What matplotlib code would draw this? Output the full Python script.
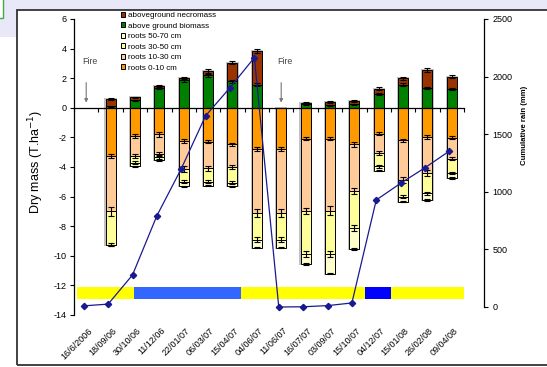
import numpy as np
import matplotlib
matplotlib.use("Agg")
import matplotlib.pyplot as plt
from matplotlib.patches import Rectangle

plt.rcParams['font.family'] = ['Liberation Sans', 'DejaVu Sans']
plt.rcParams['axes.unicode_minus'] = False

# ---------------- data ----------------
dates = ['16/6/2006', '18/09/06', '30/10/06', '11/12/06', '22/01/07', '06/03/07',
         '15/04/07', '04/06/07', '11/06/07', '16/07/07', '03/09/07', '15/10/07',
         '04/12/07', '15/01/08', '26/02/08', '09/04/08']

# aboveground compartments (T/ha, positive)
biomass   = [0, 0.10, 0.50, 1.35, 1.85, 2.20, 1.80, 1.55, 0, 0.25, 0.17, 0.25, 0.92, 1.57, 1.34, 1.25]
necromass = [0, 0.50, 0.20, 0.15, 0.15, 0.30, 1.25, 2.30, 0, 0.10, 0.23, 0.22, 0.38, 0.41, 1.20, 0.84]

# root compartments (T/ha, drawn downwards)
roots_0_10  = [0, 3.25, 1.90, 1.80, 2.25, 2.30, 2.45, 2.80, 2.80, 2.10, 2.10, 2.47, 1.75, 2.20, 1.98, 2.02]
roots_10_30 = [0, 3.75, 1.35, 1.30, 1.90, 1.80, 1.55, 4.30, 4.30, 4.90, 4.85, 3.18, 1.30, 2.67, 2.44, 1.42]
roots_30_50 = [0, 2.25, 0.45, 0.25, 0.85, 0.90, 1.05, 1.80, 1.80, 2.90, 2.95, 2.45, 0.90, 1.13, 1.36, 0.98]
roots_50_70 = [0, 0.05, 0.25, 0.20, 0.30, 0.25, 0.25, 0.55, 0.55, 0.65, 1.30, 1.45, 0.30, 0.34, 0.44, 0.31]

# standard errors
biomass_se   = [0, 0.04, 0.05, 0.06, 0.08, 0.10, 0.10, 0.10, 0, 0.03, 0.03, 0.03, 0.05, 0.08, 0.08, 0.08]
necromass_se = [0, 0.06, 0.05, 0.05, 0.10, 0.12, 0.10, 0.15, 0, 0.05, 0.05, 0.05, 0.08, 0.10, 0.12, 0.10]
roots_0_10_se  = [0, 0.15, 0.15, 0.15, 0.15, 0.10, 0.10, 0.12, 0.12, 0.10, 0.10, 0.15, 0.10, 0.12, 0.12, 0.10]
roots_10_30_se = [0, 0.30, 0.12, 0.10, 0.20, 0.15, 0.15, 0.25, 0.25, 0.20, 0.30, 0.20, 0.12, 0.20, 0.20, 0.10]
roots_30_50_se = [0, 0.10, 0.10, 0.08, 0.10, 0.10, 0.08, 0.15, 0.15, 0.20, 0.20, 0.20, 0.10, 0.12, 0.12, 0.08]
roots_50_70_se = [0, 0.05, 0.05, 0.05, 0.05, 0.05, 0.05, 0.05, 0.05, 0.05, 0.05, 0.05, 0.05, 0.05, 0.05, 0.05]

# cumulative rainfall since the last fire (mm)
rain = [10, 25, 278, 792, 1200, 1660, 1904, 2165, 0, 2, 12, 35, 929, 1074, 1209, 1354]

# dry / wet season strip along the bottom (category units)
season_edges = [-0.39, 1.95, 6.35, 11.45, 12.5, 15.5]
season_colors = ['#FFFF00', '#3366FF', '#FFFF00', '#0000FF', '#FFFF00']

fire_dates = [0, 8]

# ---------------- figure ----------------
W, H = 547, 367
fig = plt.figure(figsize=(W / 100, H / 100), dpi=100)
fig.patch.set_facecolor('white')


def fx(px):
    return px / W


def fy(py):
    return 1 - py / H


# surrounding window decoration
fig.add_artist(Rectangle((0, fy(10)), 1, 10 / H, transform=fig.transFigure,
                         facecolor='#E8E8F8', edgecolor='none', zorder=0))
fig.add_artist(Rectangle((0, fy(37)), 17 / W, 37 / H, transform=fig.transFigure,
                         facecolor='#E8E8F8', edgecolor='none', zorder=0))
fig.add_artist(Rectangle((-0.01, fy(18)), 0.01 + 2.7 / W, 20 / H, transform=fig.transFigure,
                         facecolor='white', edgecolor='#44AA44', lw=1.0, zorder=1))
fig.add_artist(Rectangle((fx(17), fy(365)), (W + 10 - 17) / W, (365 - 10) / H,
                         transform=fig.transFigure, fill=False, edgecolor='#333333',
                         lw=1.3, zorder=1))

n = len(dates)
x = np.arange(n)
cat_px = (464 - 74) / n

ax = fig.add_axes([fx(74), fy(315), (464 - 74) / W, (315 - 19) / H])
ax.patch.set_alpha(0)
ax.set_xlim(-0.5, n - 0.5)
ax.set_ylim(-14, 6)

b = np.array(biomass)
nm = np.array(necromass)
r1 = np.array(roots_0_10)
r2 = np.array(roots_10_30)
r3 = np.array(roots_30_50)
r4 = np.array(roots_50_70)

has_bar = (b + nm + r1 + r2 + r3 + r4) > 0
has_pos = (b + nm) > 0
w = 0.41
edge = dict(edgecolor='black', linewidth=0.7)

# soft shadow behind each column
top = b + nm
bot = -(r1 + r2 + r3 + r4)
ax.bar(x[has_bar], (top - bot)[has_bar] + 0.14, bottom=bot[has_bar] - 0.07,
       width=w + 0.09, color='#909090', alpha=0.55, zorder=1)

h_bio = ax.bar(x[has_pos], b[has_pos], width=w, color='#008000', zorder=2, **edge)
h_nec = ax.bar(x[has_pos], nm[has_pos], bottom=b[has_pos], width=w,
               color='#993300', zorder=2, **edge)
h_r1 = ax.bar(x[has_bar], -r1[has_bar], width=w, color='#FF9900', zorder=2, **edge)
h_r2 = ax.bar(x[has_bar], -r2[has_bar], bottom=-r1[has_bar], width=w,
              color='#FFCC99', zorder=2, **edge)
h_r3 = ax.bar(x[has_bar], -r3[has_bar], bottom=-(r1 + r2)[has_bar], width=w,
              color='#FFFF99', zorder=2, **edge)
h_r4 = ax.bar(x[has_bar], -r4[has_bar], bottom=-(r1 + r2 + r3)[has_bar], width=w,
              color='#FFFFCC', zorder=2, **edge)

eb = dict(fmt='none', ecolor='black', elinewidth=0.8, capsize=2.3, capthick=0.8, zorder=3)
ax.errorbar(x[has_pos], b[has_pos], yerr=np.array(biomass_se)[has_pos], **eb)
ax.errorbar(x[has_pos], top[has_pos], yerr=np.array(necromass_se)[has_pos], **eb)
ax.errorbar(x[has_bar], -r1[has_bar], yerr=np.array(roots_0_10_se)[has_bar], **eb)
ax.errorbar(x[has_bar], -(r1 + r2)[has_bar], yerr=np.array(roots_10_30_se)[has_bar], **eb)
ax.errorbar(x[has_bar], -(r1 + r2 + r3)[has_bar], yerr=np.array(roots_30_50_se)[has_bar], **eb)
ax.errorbar(x[has_bar], bot[has_bar], yerr=np.array(roots_50_70_se)[has_bar], **eb)

# season strip
edges = np.array(season_edges)
ax.barh(-12.54, np.diff(edges), left=edges[:-1], height=0.8,
        color=season_colors, edgecolor='none', zorder=1)

# axes styling
for s in ['top', 'right']:
    ax.spines[s].set_visible(False)
ax.spines['bottom'].set_position(('data', 0))
ax.spines['bottom'].set_bounds(-0.5, n - 0.5)
ax.spines['left'].set_bounds(-14, 6)
for s in ['bottom', 'left']:
    ax.spines[s].set_linewidth(0.9)
ax.set_xticks(np.arange(-0.5, n, 1))
ax.set_xticklabels([])
ax.tick_params(axis='x', direction='out', length=3, width=0.8)
ax.set_yticks(np.arange(-14, 7, 2))
ax.tick_params(axis='y', direction='out', length=3, width=0.8, labelsize=6.5, pad=2)

for i, d in enumerate(dates):
    ax.annotate(d, xy=(i, -14), xytext=(1, -8), textcoords='offset points',
                rotation=45, ha='right', va='top', rotation_mode='anchor',
                fontsize=6.5, annotation_clip=False)

# fire events
for f in fire_dates:
    ax.annotate('', xy=(f, 0.35), xytext=(f, 1.7),
                arrowprops=dict(arrowstyle='-|>', color='#777777', lw=0.8,
                                mutation_scale=5, shrinkA=0, shrinkB=0))
    ax.text(f + 0.17, 3.1, 'Fire', fontsize=6.3, color='#444444', ha='center', va='center')

fig.text(fx(36), fy(162), 'Dry mass (T.ha$^{-1}$)', rotation=90, fontsize=9,
         ha='center', va='center')

# legend
leg = ax.legend([h_nec, h_bio, h_r4, h_r3, h_r2, h_r1],
                ['aboveground necromass', 'above ground biomass', 'roots 50-70 cm',
                 'roots 30-50 cm', 'roots 10-30 cm', 'roots 0-10 cm'],
                loc='upper left', bbox_to_anchor=(fx(121), fy(12)),
                bbox_transform=fig.transFigure, frameon=False, fontsize=5.8,
                handlelength=0.55, handleheight=0.55, handletextpad=0.35,
                labelspacing=0.4, borderpad=0, borderaxespad=0)

# cumulative rain on its own scale
ax2 = fig.add_axes([fx(74), fy(307), (484 - 74) / W, (307 - 19) / H], zorder=5)
ax2.patch.set_alpha(0)
ax2.set_xlim(-0.5, -0.5 + (484 - 74) / cat_px)
ax2.set_ylim(0, 2500)
ax2.plot(x - 0.1, rain, color='#1A1A90', lw=0.9, marker='D', markersize=3.2,
         markerfacecolor='#1A1A90', markeredgecolor='#1A1A90', clip_on=False)
for s in ['top', 'left', 'bottom']:
    ax2.spines[s].set_visible(False)
ax2.spines['right'].set_linewidth(0.9)
ax2.set_xticks([])
ax2.yaxis.tick_right()
ax2.set_yticks(np.arange(0, 2501, 500))
ax2.tick_params(axis='y', direction='out', length=3, width=0.8, labelsize=6.5, pad=3)
fig.text(fx(525), fy(125), 'Cumulative rain (mm)', rotation=90, fontsize=5.6,
         fontweight='bold', ha='center', va='center')

fig.savefig('out.png', dpi=100)
